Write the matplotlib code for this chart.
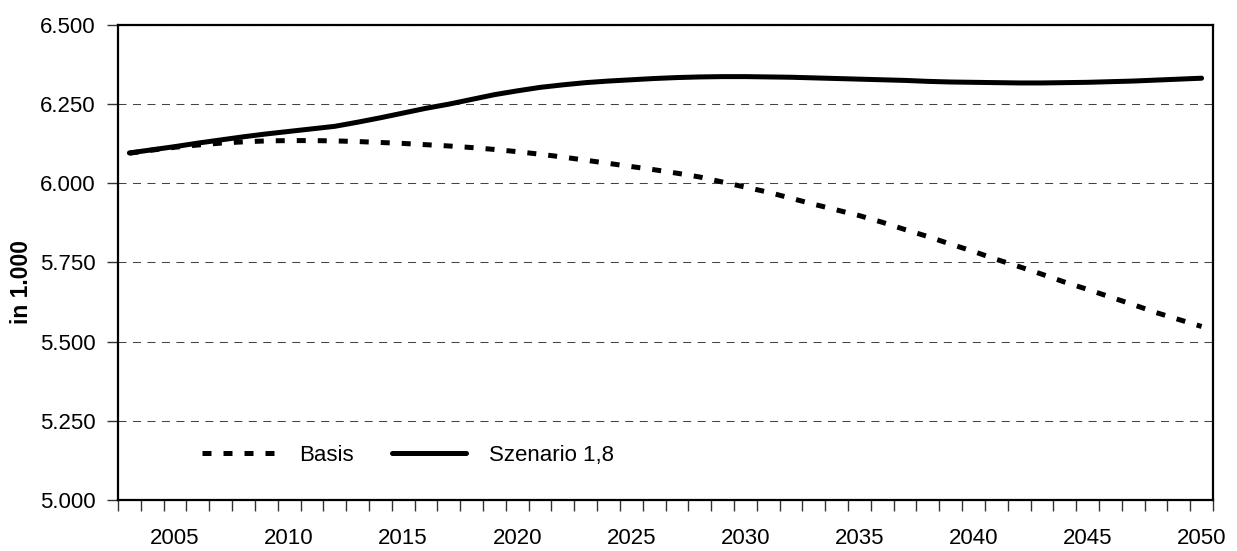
import numpy as np
import matplotlib
matplotlib.use('Agg')
import matplotlib.pyplot as plt
from matplotlib.ticker import FuncFormatter, MultipleLocator

plt.rcParams['font.family'] = ['Liberation Sans', 'DejaVu Sans']

# Bevölkerung in 1.000, Jahre 2003 bis 2050
jahre = np.arange(2003, 2051)

basis = [6095, 6105, 6114, 6121, 6127, 6131, 6134, 6135, 6135, 6134,
         6132, 6129, 6126, 6122, 6118, 6113, 6107, 6100, 6092, 6083,
         6073, 6063, 6053, 6043, 6032, 6020, 6004, 5988, 5972, 5953,
         5934, 5916, 5898, 5877, 5854, 5832, 5808, 5785, 5760, 5737,
         5713, 5688, 5665, 5641, 5617, 5592, 5570, 5548]

szenario = [6096, 6106, 6116, 6127, 6137, 6147, 6156, 6164, 6172, 6180,
            6193, 6207, 6222, 6237, 6250, 6265, 6280, 6292, 6303, 6311,
            6318, 6323, 6327, 6331, 6334, 6336, 6337, 6337, 6336, 6335,
            6333, 6331, 6329, 6327, 6325, 6322, 6320, 6319, 6318, 6317,
            6317, 6318, 6319, 6321, 6323, 6326, 6329, 6332]

beschriftung = [2005, 2010, 2015, 2020, 2025, 2030, 2035, 2040, 2045, 2050]

fs = 16

fig = plt.figure(figsize=(12.37, 5.51), dpi=100)
ax = fig.add_axes([118 / 1237, 1 - 500 / 551, 1095 / 1237, 475 / 551])

ax.plot(jahre, basis, color='black', lw=3.6, ls=(0, (1.8, 2.4)),
        dash_capstyle='butt', label='Basis')
ax.plot(jahre, szenario, color='black', lw=3.6, solid_capstyle='round',
        label='Szenario 1,8')

ax.set_xlim(2002.5, 2050.5)
ax.set_ylim(5000, 6500)

# Gitterlinien
ax.yaxis.set_major_locator(MultipleLocator(250))
ax.grid(axis='y', color='#444444', lw=0.75, ls=(0, (7.7, 6.2)))
ax.set_axisbelow(True)

ax.yaxis.set_major_formatter(
    FuncFormatter(lambda v, p: f'{int(v):,}'.replace(',', '.')))

# Jahreszahlen mittig zwischen den Teilstrichen
ax.set_xticks(beschriftung)
ax.set_xticklabels([str(j) for j in beschriftung])
ax.set_xticks(np.arange(2002.5, 2051, 1), minor=True)
ax.tick_params(axis='x', which='major', length=0, pad=20, labelsize=fs)
ax.tick_params(axis='x', which='minor', length=8, width=1, color='#333333',
               direction='out')
ax.tick_params(axis='y', length=8, width=1, color='#333333', pad=8,
               labelsize=fs)

for s in ax.spines.values():
    s.set_linewidth(1.6)
    s.set_color('black')

fig.text(22 / 1237, 1 - 282 / 551, 'in 1.000', rotation=90, fontsize=16.5,
         fontweight='bold', ha='center', va='center')

ax.legend(loc='center left', bbox_to_anchor=(0.0767, 0.0947), ncol=2,
          frameon=False, fontsize=fs, handlelength=3.3, handletextpad=1.05,
          columnspacing=1.75, borderaxespad=0, borderpad=0)

fig.savefig('out.png', dpi=100)
